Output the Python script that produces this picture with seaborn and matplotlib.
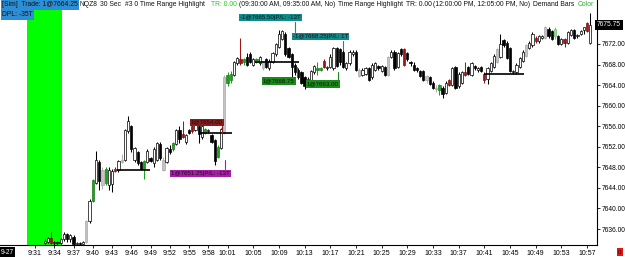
import numpy as np
import pandas as pd
import matplotlib
matplotlib.use("Agg")
import matplotlib.pyplot as plt
import seaborn as sns

# ---------------- data ----------------
first_bar = 5  # bars are 30 s, counted from 09:30:00
opens = [7633.25, 7633.5, 7634.25, 7633.25, 7633.5, 7633.25, 7634, 7635, 7634, 7634.5,
         7633, 7633.25, 7633, 7633.5, 7637.5, 7641.5, 7645, 7649, 7644.5, 7645,
         7644.5, 7644.75, 7647.75, 7647.5, 7649, 7649.5, 7655, 7656, 7649.5, 7651,
         7649, 7647.75, 7649, 7649.75, 7648.75, 7649.5, 7652.5, 7647.5, 7649, 7651.5,
         7651.5, 7652.5, 7655.25, 7654.5, 7653, 7655.25, 7656, 7655.25, 7656, 7654,
         7654.75, 7655, 7654.25, 7653.25, 7650, 7651.75, 7654.75, 7664.5, 7665, 7666,
         7668.25, 7669, 7668.5, 7669.5, 7670, 7668, 7668.5, 7668.25, 7667.25, 7669,
         7667.25, 7668.5, 7670, 7671.5, 7673, 7674, 7671.25, 7670, 7668, 7667,
         7666.5, 7665.5, 7664.25, 7665, 7666.5, 7667, 7667, 7668.75, 7667.25, 7667.5,
         7667.25, 7671.25, 7671, 7670.5, 7667.25, 7668.25, 7670, 7670.5, 7667, 7666,
         7666.25, 7667.25, 7665.5, 7667, 7667.75, 7666.75, 7667.5, 7666, 7669.5, 7670.5,
         7667.5, 7671, 7671, 7670.25, 7668.5, 7668, 7667.25, 7666.75, 7666.75, 7665,
         7665.5, 7664.5, 7663.5, 7663, 7663.5, 7662.5, 7665, 7664, 7667.5, 7663.75,
         7664.5, 7666.5, 7667.5, 7666, 7667.75, 7667, 7667.5, 7666.25, 7665.25, 7666.75,
         7667.5, 7668.5, 7669.5, 7672.75, 7672.25, 7671.25, 7666.5, 7666.5, 7667.5, 7668.75,
         7669.75, 7671.25, 7671.75, 7673.25, 7672.5, 7673.25, 7673.25, 7675, 7674.5, 7673.5,
         7673.5, 7672, 7673, 7672.25, 7673.75, 7674.75, 7673.5, 7674, 7674.75, 7676,
         7672.25]
highs = [7634, 7634.5, 7635.5, 7633.75, 7633.75, 7634.25, 7635.5, 7635.25, 7635, 7634.75,
         7633.5, 7633.5, 7633.75, 7637.75, 7641.75, 7645.75, 7651.25, 7649.5, 7648, 7648,
         7648, 7647.75, 7648, 7649.5, 7650.5, 7655.5, 7658, 7656.25, 7652, 7651.25,
         7649.25, 7649.5, 7651.5, 7650, 7652, 7653, 7653, 7650, 7652, 7652.25,
         7653, 7655.5, 7656, 7657, 7654.5, 7655.5, 7656.25, 7656.5, 7656.25, 7656.25,
         7655.75, 7655.5, 7654.5, 7653.5, 7652.25, 7655.75, 7666, 7666.5, 7666.75, 7668.75,
         7669.5, 7673.25, 7669.25, 7670.25, 7670.5, 7669.25, 7669.25, 7669.75, 7668.75, 7669.25,
         7669, 7670.5, 7672.25, 7674.75, 7674.75, 7674.25, 7671.5, 7670.25, 7668.25, 7667.25,
         7666.75, 7665.75, 7665.5, 7667, 7668, 7668.5, 7667.5, 7669, 7667.75, 7670,
         7671.5, 7671.5, 7671.25, 7670.75, 7668.5, 7670.75, 7670.75, 7670.75, 7667.25, 7667.25,
         7667.5, 7667.5, 7668.25, 7668.5, 7668, 7668, 7667.75, 7669.75, 7670.75, 7670.75,
         7670.5, 7671.25, 7671.25, 7670.5, 7668.75, 7668.5, 7667.5, 7667, 7667, 7666,
         7665.75, 7664.75, 7664, 7664.25, 7663.75, 7664.75, 7665.25, 7667.5, 7667.75, 7666.5,
         7666.75, 7668.5, 7667.75, 7668.5, 7668, 7667.5, 7667.75, 7666.5, 7667.5, 7668.5,
         7670, 7671.25, 7674, 7673, 7672.5, 7671.5, 7667, 7668.25, 7669.5, 7670.75,
         7672, 7672.5, 7674.25, 7673.5, 7673.75, 7673.75, 7675.5, 7675.25, 7674.75, 7675.25,
         7673.75, 7673.25, 7673.25, 7674.5, 7675, 7675, 7674, 7674.75, 7675.25, 7676.25,
         7678]
lows = [7633, 7633.25, 7633, 7632.75, 7632.75, 7633, 7633.75, 7633.5, 7633.5, 7632.75,
        7632.75, 7632.75, 7632.75, 7633.25, 7637.25, 7641.25, 7644.75, 7643.5, 7643.75, 7644.5,
        7643.5, 7643.25, 7647, 7647, 7648.75, 7649.25, 7654.75, 7651, 7649, 7648.5,
        7647.5, 7645.75, 7648.75, 7649, 7648, 7649.25, 7649.5, 7647.25, 7648.75, 7650.5,
        7651.25, 7652.25, 7652.75, 7653.75, 7652.5, 7654.5, 7654.75, 7655, 7652.75, 7653.5,
        7654.5, 7654.75, 7652.75, 7648.5, 7649.75, 7651.5, 7654.5, 7663.75, 7664.5, 7665.75,
        7668, 7668, 7668, 7667.75, 7668.25, 7667.75, 7668.25, 7668, 7667, 7667.25,
        7667, 7668.25, 7669.75, 7671.25, 7672.75, 7669.75, 7669.25, 7664.5, 7666, 7665.25,
        7664.25, 7663.25, 7664, 7664.75, 7666.25, 7666, 7666.75, 7667.25, 7667, 7667.25,
        7667, 7667.5, 7668, 7667.25, 7667, 7668, 7669.75, 7666.75, 7665.5, 7665.75,
        7666, 7664.75, 7665.25, 7666.75, 7667, 7666.5, 7665.75, 7665.75, 7669.25, 7667,
        7667.25, 7669.75, 7667.75, 7668.75, 7667.75, 7666.75, 7666.5, 7665.5, 7664.75, 7664.5,
        7664, 7663.25, 7662.75, 7662, 7661.5, 7662.25, 7663.75, 7663.75, 7663.25, 7663.5,
        7664.25, 7665.75, 7666, 7665.75, 7667, 7666.5, 7666.5, 7664.5, 7664.25, 7666.5,
        7667.25, 7668.25, 7669.25, 7671.5, 7669, 7666.5, 7666.25, 7666.25, 7667.25, 7668.5,
        7669.5, 7671, 7671.5, 7672.25, 7672.25, 7673, 7673, 7673.25, 7672.75, 7673,
        7671.75, 7671.75, 7671.5, 7672, 7673.5, 7673, 7673.25, 7673.75, 7674, 7674.25,
        7672]
closes = [7633.75, 7634.25, 7633.25, 7633.5, 7633.25, 7634, 7635, 7634, 7634.75, 7633,
          7633.25, 7633, 7633.5, 7637.5, 7641.5, 7645.5, 7649.5, 7645.25, 7647.5, 7647.75,
          7647.5, 7647.25, 7647.25, 7649.25, 7649.5, 7655.25, 7657, 7651.5, 7651.75, 7648.75,
          7647.75, 7649.25, 7651.25, 7649.25, 7651.5, 7652.75, 7649.75, 7649.5, 7651.75, 7651,
          7652.75, 7655.25, 7653.5, 7654, 7654.25, 7654.75, 7655, 7656.25, 7654.5, 7656,
          7655.5, 7655.25, 7653, 7649.25, 7652, 7655.5, 7665.5, 7666, 7666.25, 7668.5,
          7669.25, 7668.25, 7669, 7668, 7668.5, 7669, 7669, 7669.5, 7668.5, 7667.5,
          7668.75, 7670.25, 7672, 7674, 7674.5, 7670, 7669.5, 7667.5, 7666.5, 7665.5,
          7664.5, 7663.75, 7665.25, 7666.75, 7667.75, 7667.25, 7667.25, 7667.5, 7667.5, 7669.5,
          7671.25, 7667.75, 7668.5, 7667.5, 7668.25, 7670.5, 7670.5, 7667, 7665.75, 7667,
          7667.25, 7665, 7668, 7668.25, 7667.25, 7667.75, 7666, 7669.5, 7670.5, 7667.25,
          7670.25, 7670, 7668, 7669, 7668.25, 7667, 7667, 7665.75, 7665, 7665.75,
          7664.25, 7663.5, 7663.25, 7664, 7662.25, 7664.5, 7664, 7667.25, 7663.5, 7666.25,
          7666.5, 7666, 7666.25, 7668.25, 7667.25, 7667.25, 7666.75, 7665, 7667.25, 7668.25,
          7669.75, 7671, 7672, 7671.75, 7669.25, 7666.75, 7666.75, 7668, 7669.25, 7670.5,
          7671.75, 7672.25, 7674, 7672.5, 7673.5, 7673.5, 7675.25, 7673.5, 7673, 7675,
          7672, 7673, 7672.25, 7674.25, 7674.75, 7673.25, 7673.75, 7674.5, 7675.25, 7674.5,
          7675.75]
# demand-bar colouring state for specific bars (bar number from 09:30)
bar_state = {7: 'r', 18: 'k', 20: 'g', 23: 'k', 24: 'g', 27: 'r', 29: 'k', 36: 'g',
             42: 'k', 45: 'g', 48: 'r', 51: 'r', 55: 'g', 59: 'g', 61: 'k', 62: 'g',
             63: 'g', 66: 'r', 67: 'g', 71: 'g', 73: 'k', 90: 'g', 91: 'g', 92: 'r',
             103: 'k', 112: 'k', 117: 'r', 124: 'k', 127: 'k', 128: 'g', 131: 'r',
             136: 'r', 142: 'r', 146: 'k', 155: 'k', 158: 'r', 161: 'k', 164: 'l',
             167: 'r', 174: 'r'}
# horizontal demand levels: price, first bar, last bar
level_prices = [7647.5, 7654.75, 7668.5, 7666.25]
level_start = [27.5, 53, 70.5, 142]
level_end = [37.8, 63.3, 84.2, 154.3]
tick_labels = ["9:31", "9:34", "9:37", "9:40", "9:43", "9:46", "9:49", "9:52", "9:55",
               "9:58", "10:01", "10:05", "10:09", "10:13", "10:17", "10:21", "10:25",
               "10:29", "10:33", "10:37", "10:41", "10:45", "10:49", "10:53", "10:57"]
price_ticks = [7636, 7640, 7644, 7648, 7652, 7656, 7660, 7664, 7668, 7672]
last_price = 7675.75
highlight_start, highlight_end = "9:30", "9:35"

# ---------------- figure ----------------
sns.set_theme(style="white")
plt.rcParams['font.family'] = ['Liberation Sans', 'DejaVu Sans']

W, H = 625, 257
fig = plt.figure(figsize=(W / 100, H / 100), dpi=100)
ax = fig.add_axes([0, 12 / H, 597 / W, 1 - 12 / H])

session = pd.Timestamp("2018-09-27 09:30:00")
def bar_pos(label):
    t = pd.Timestamp("2018-09-27 " + label)
    return (t - session) / pd.Timedelta(seconds=30)

bar_times = pd.date_range(session + pd.Timedelta(seconds=30 * first_bar),
                          periods=len(opens), freq="30s")
df = pd.DataFrame({"t": (bar_times - session) / pd.Timedelta(seconds=30),
                   "o": opens, "h": highs, "l": lows, "c": closes})
df["bar"] = df["t"].round().astype(int)
df["state"] = [bar_state.get(b, 'u' if c >= o else 'd')
               for b, o, c in zip(df["bar"], df["o"], df["c"])]

fills = {'u': 'white', 'd': 'black', 'g': '#1f9e1f', 'r': '#a01515',
         'k': '#c4c4c4', 'l': '#90dc90'}
edges = {'u': 'black', 'd': 'black', 'g': '#1a7d1a', 'r': '#801010',
         'k': '#a8a8a8', 'l': '#70c070'}
wicks = {'u': 'black', 'd': 'black', 'g': '#1f9e1f', 'r': '#a01515',
         'k': '#b0b0b0', 'l': '#80cc80'}

# session highlight
ax.axvspan(bar_pos(highlight_start) - 0.5, bar_pos(highlight_end) + 0.4,
           ymin=0, ymax=(245 - 10) / 245, color='#00ff00', lw=0, zorder=0)

ax.vlines(df["t"], df["l"], df["h"], colors=[wicks[s] for s in df["state"]],
          lw=0.75, zorder=2)
body_lo = np.minimum(df["o"], df["c"])
body_h = np.maximum(np.abs(df["c"] - df["o"]), 0.15)
ax.bar(df["t"], body_h, bottom=body_lo, width=0.7,
       color=[fills[s] for s in df["state"]],
       edgecolor=[edges[s] for s in df["state"]], linewidth=0.5, zorder=3)

for p, s, e in zip(level_prices, level_start, level_end):
    ax.hlines(p, s, e, color='black', lw=1.2, zorder=4)

# trade labels
def tag(x, y, text, fc, vx=None, vy=None, color='#111111'):
    ax.text(x, y, text, fontsize=4.4, color=color, ha='left', va='center', zorder=6,
            bbox=dict(boxstyle='square,pad=0.18', fc=fc, ec='none'))
    if vx is not None:
        ax.plot([vx, vx], vy, color=fc, lw=0.8, zorder=5)

tag(50.6, 7656.8, "1@7654.00", '#8e1b1b', 60.3, [7656.0, 7654.75])
tag(44.4, 7646.8, "1@7651.25|P/L: -13T", '#a41fa4', 61.2, [7647.7, 7649.5])
tag(65.9, 7677.2, "-1@7665.50|P/L: -13T", '#128a8a', 83.0, [7676.2, 7674.3])
tag(82.4, 7673.5, "-1@7668.25|P/L: 1T", '#128a8a', 98.0, [7672.6, 7670.8])
tag(73.0, 7664.8, "1@7668.75", '#1a8a1a', 83.6, [7665.6, 7667.6])
tag(86.7, 7664.2, "1@7663.00", '#1a8a1a', 96.4, [7665.0, 7666.6])

ax.set_xlim(-8.91, 177.1)
ax.set_ylim(7632.89, 7680.56)
ax.set_xticks([bar_pos(l) for l in tick_labels])
ax.set_xticklabels(tick_labels)
ax.yaxis.tick_right()
ax.set_yticks(price_ticks)
ax.set_yticklabels([f"{v:.2f}" for v in price_ticks])
ax.tick_params(axis='both', labelsize=4.8, length=2, width=0.6, pad=1.5,
               colors='black', direction='out')
ax.tick_params(axis='x', bottom=True, labelsize=5.0)
ax.tick_params(axis='y', right=True, left=False)
for side in ['left', 'top']:
    ax.spines[side].set_visible(False)
for side in ['right', 'bottom']:
    ax.spines[side].set_color('black')
    ax.spines[side].set_linewidth(0.8)

# last price marker
ax.text(1.0, (last_price - 7632.89) / (7680.56 - 7632.89), f"{last_price:.2f}",
        transform=ax.transAxes, fontsize=4.8, color='white', ha='left', va='center',
        bbox=dict(boxstyle='square,pad=0.25', fc='black', ec='none'))

# header
def ftxt(x, y, s, color='#111111', bg=None, size=4.9):
    kw = {}
    if bg:
        kw['bbox'] = dict(boxstyle='square,pad=0.2', fc=bg, ec='none')
    fig.text(x / W, 1 - y / H, s, fontsize=size, color=color, ha='left', va='center', **kw)

ftxt(2, 5, "[Sim]  Trade: 1@7664.25", bg='#2c8fd6')
ftxt(2, 15, "DPL: -35T", bg='#2c8fd6')
ftxt(79, 5, "NQZ8")
ftxt(100, 5, "30 Sec")
ftxt(125, 5, "#3 0 Time Range Highlight")
ftxt(211, 5, "TR: 0.00", color='#22cc22')
ftxt(239, 5, "(09:30:00 AM, 09:35:00 AM, No)")
ftxt(338, 5, "Time Range Highlight")
ftxt(406, 5, "TR: 0.00")
ftxt(433, 5, "(12:00:00 PM, 12:05:00 PM, No)")
ftxt(533, 5, "Demand Bars")
ftxt(578, 5, "Color", color='#33aa33')

# footer markers
ftxt(1, 252, "9-27", color='white', bg='black', size=4.8)
ftxt(618, 252, "0", color='#111111', bg='#ee1111', size=4.5)

fig.savefig("out.png", dpi=100)
